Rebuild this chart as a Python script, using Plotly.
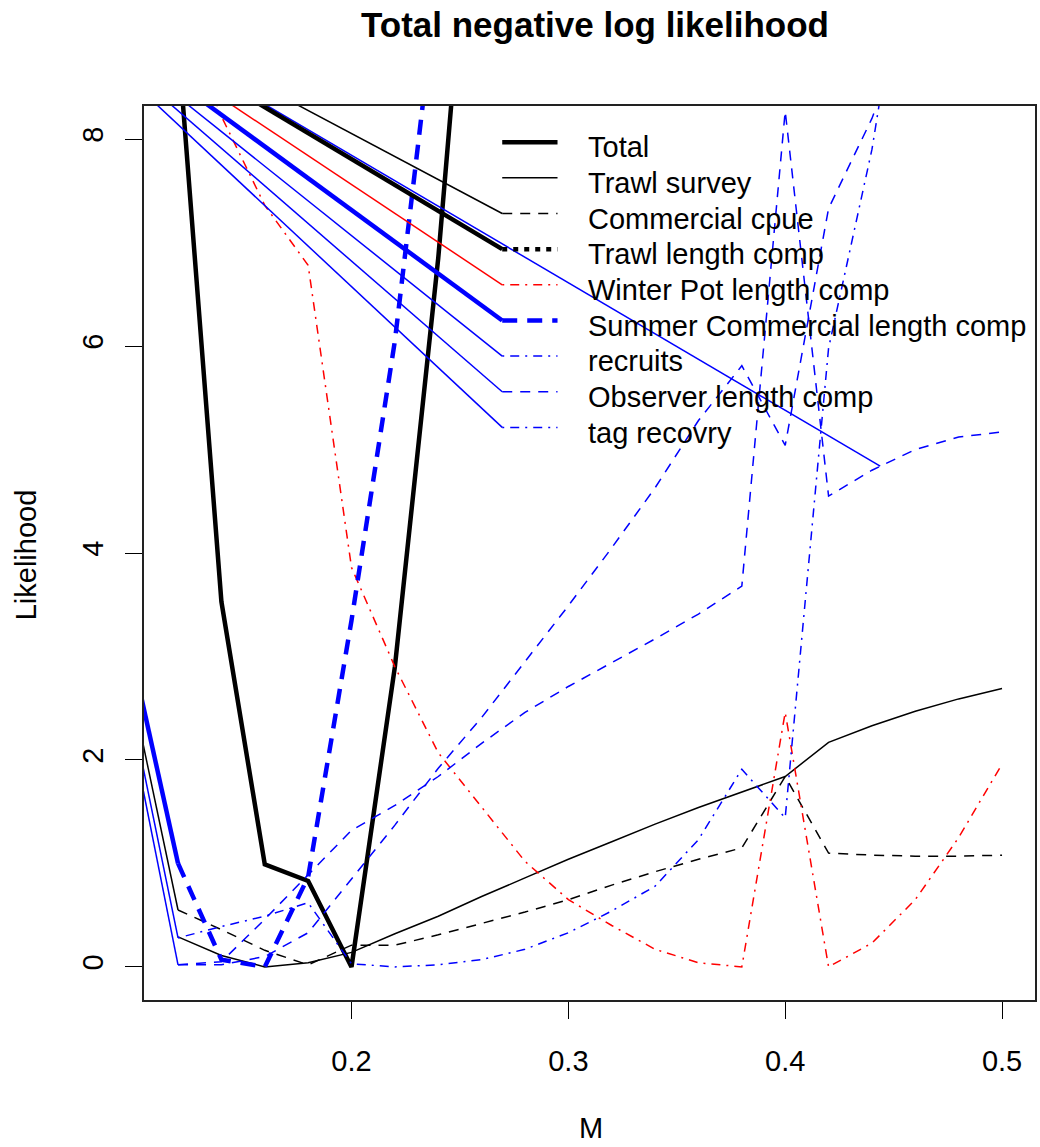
import plotly.graph_objects as go

# ---------------- data ----------------
M = [0.12, 0.14, 0.16, 0.18, 0.20, 0.22, 0.24, 0.26, 0.28, 0.30,
     0.32, 0.34, 0.36, 0.38, 0.40, 0.42, 0.44, 0.46, 0.48, 0.50]

total = [8.95, 3.53, 0.99, 0.83, 0.0, 2.9, 6.85, 11.8, None, None,
         None, None, None, None, None, None, None, None, None, None]
trawl_survey = [0.29, 0.11, 0.0, 0.04, 0.14, 0.32, 0.49, 0.68, 0.86, 1.04,
                1.21, 1.38, 1.54, 1.69, 1.84, 2.17, 2.33, 2.47, 2.59, 2.69]
commercial_cpue = [0.55, 0.36, 0.16, 0.02, 0.21, 0.21, 0.31, 0.42, 0.53, 0.65,
                   0.79, 0.92, 1.04, 1.15, 1.84, 1.10, 1.08, 1.07, 1.07, 1.08]
winter_pot = [9.3, 8.22, 7.36, 6.78, 3.86, 2.9, 2.07, 1.54, 1.02, 0.65,
              0.40, 0.17, 0.04, 0.0, 2.46, 0.0, 0.23, 0.65, 1.25, 1.96]
summer_comm = [1.0, 0.07, 0.0, 0.87, 3.35, 6.05, 9.6, None, None, None,
               None, None, None, None, None, None, None, None, None, None]
recruits = [0.28, 0.39, 0.49, 0.62, 0.03, 0.0, 0.02, 0.07, 0.17, 0.33,
            0.54, 0.78, 1.23, 1.91, 1.44, 5.98, 7.9, 10.5, None, None]
observer = [0.02, 0.05, 0.46, 0.89, 1.32, 1.56, 1.84, 2.16, 2.46, 2.71,
            2.94, 3.17, 3.41, 3.68, 8.27, 4.55, 4.8, 5.0, 5.12, 5.17]
tag_recovery = [0.02, 0.02, 0.10, 0.33, 0.85, 1.37, 1.92, 2.41, 2.95, 3.49,
                4.05, 4.63, 5.28, 5.81, 5.04, 7.33, 8.2, 9.3, None, None]

# common off-chart anchor point the stray solid segments radiate from
anchor_x = 0.025
anchor_y = 10.0
# stray solid segments from the anchor to series start points
stray_end_x = [0.12, 0.12, 0.12, 0.12, 0.4438]
stray_end_y = [1.0, 0.55, 0.28, 0.02, 4.84]

legend_labels = ["Total", "Trawl survey", "Commercial cpue", "Trawl length comp",
                 "Winter Pot length comp", "Summer Commercial length comp",
                 "recruits", "Observer length comp", "tag recovry"]

# ---------------- styles ----------------
FONT = "Liberation Sans, Arial, Helvetica, sans-serif"
FS = 29
THIN = 1.5
THICK = 4.5
THIN_DASH = "10px,8px"
THICK_DASH = "15px,10px"
DOTDASH = "2px,6px,9px,6px"
THICK_DOT = "5px,6px"

styles = [
    ("black", THICK, "solid"),     # Total
    ("black", THIN, "solid"),      # Trawl survey
    ("black", THIN, THIN_DASH),    # Commercial cpue
    ("black", THICK, THICK_DOT),   # Trawl length comp
    ("red", THIN, DOTDASH),        # Winter Pot
    ("blue", THICK, THICK_DASH),   # Summer Commercial
    ("blue", THIN, DOTDASH),       # recruits
    ("blue", THIN, THIN_DASH),     # Observer
    ("blue", THIN, DOTDASH),       # tag recovry (legend)
]

fig = go.Figure()


def add_line(x, y, color, width, dash):
    fig.add_trace(go.Scatter(x=x, y=y, mode="lines",
                             line=dict(color=color, width=width, dash=dash),
                             connectgaps=False, hoverinfo="skip", showlegend=False))


# data series
add_line(M, total, "black", THICK, "solid")
add_line(M, trawl_survey, "black", THIN, "solid")
add_line(M, commercial_cpue, "black", THIN, THIN_DASH)
add_line(M, winter_pot, "red", THIN, DOTDASH)
add_line(M, summer_comm, "blue", THICK, THICK_DASH)
add_line(M, recruits, "blue", THIN, DOTDASH)
add_line(M, observer, "blue", THIN, THIN_DASH)
add_line(M, tag_recovery, "blue", THIN, THIN_DASH)

# stray solid segments from anchor to first points
stray_styles = [("blue", THICK), ("black", THIN), ("blue", THIN), ("blue", THIN), ("blue", THIN)]
for ex, ey, (c, w) in zip(stray_end_x, stray_end_y, stray_styles):
    add_line([anchor_x, ex], [anchor_y, ey], c, w, "solid")

# legend (R-style, no box) in user coordinates
LEG_X0, LEG_X1, LEG_TX = 0.2695, 0.2950, 0.3081
LEG_Y0, LEG_DY = 7.97, 0.3445
TEXT_DROP = 0.05
for i, (lab, (c, w, d)) in enumerate(zip(legend_labels, styles)):
    ry = LEG_Y0 - i * LEG_DY
    if i >= 2:
        # solid connector from anchor to legend sample start
        add_line([anchor_x, LEG_X0], [anchor_y, ry], c, w, "solid")
    add_line([LEG_X0, LEG_X1], [ry, ry], c, w, d)
    fig.add_annotation(x=LEG_TX, y=ry - TEXT_DROP, xref="x", yref="y", text=lab,
                       showarrow=False, xanchor="left", yanchor="middle",
                       font=dict(family=FONT, size=FS, color="black"))

# axis titles
fig.add_annotation(x=(8 - 144) / 893, y=(1000 - 555) / 894, xref="paper", yref="paper",
                   text="Likelihood", textangle=-90, showarrow=False,
                   font=dict(family=FONT, size=FS, color="black"))
fig.add_annotation(x=(592 - 144) / 893, y=(1000 - 1146) / 894, xref="paper", yref="paper",
                   text="M", showarrow=False,
                   font=dict(family=FONT, size=FS, color="black"))

fig.update_layout(
    width=1040, height=1147,
    margin=dict(l=144, r=3, t=106, b=147, pad=0),
    paper_bgcolor="white", plot_bgcolor="white",
    font=dict(family=FONT, size=FS, color="black"),
    title=dict(text="<b>Total negative log likelihood</b>", x=(595) / 1040, xanchor="center",
               y=1 - 25 / 1147, yanchor="middle", yref="container",
               font=dict(family=FONT, size=35, color="black")),
    showlegend=False,
    hovermode=False,
)
fig.update_xaxes(range=[0.1043, 0.5152], tickvals=[0.2, 0.3, 0.4, 0.5],
                 ticktext=["0.2", "0.3", "0.4", "0.5"],
                 showgrid=False, zeroline=False, showline=True, mirror=True,
                 linecolor="#222", linewidth=1.5, ticks="outside", ticklen=17,
                 tickwidth=1, tickcolor="black", ticklabelstandoff=17,
                 tickfont=dict(family=FONT, size=FS, color="black"))
fig.update_yaxes(range=[-0.32, 8.32], tickvals=[0, 2, 4, 6, 8],
                 ticktext=["0", "2", "4", "6", "8"], tickangle=-90,
                 showgrid=False, zeroline=False, showline=True, mirror=True,
                 linecolor="#222", linewidth=1.5, ticks="outside", ticklen=17,
                 tickwidth=1, tickcolor="black", ticklabelstandoff=11,
                 tickfont=dict(family=FONT, size=FS, color="black"))

fig.write_html("out.html")
